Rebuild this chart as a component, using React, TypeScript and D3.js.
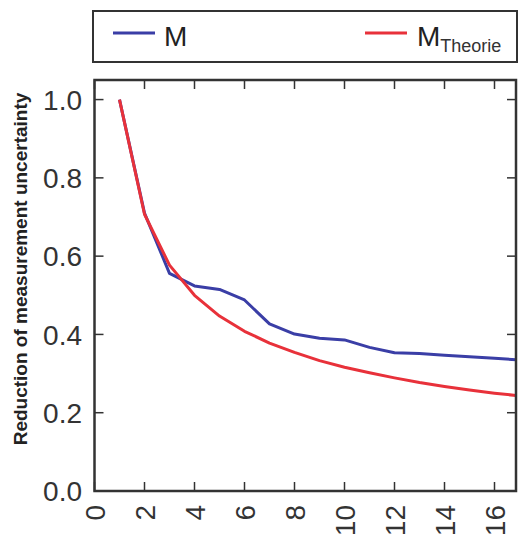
import React from "react";
import * as d3 from "d3";

const xValues = [1, 2, 3, 4, 5, 6, 7, 8, 9, 10, 11, 12, 13, 14, 15, 16, 17];
const mValues = [1.0, 0.71, 0.556, 0.524, 0.515, 0.488, 0.427, 0.401, 0.39, 0.386, 0.367, 0.353, 0.351, 0.347, 0.343, 0.339, 0.335];
const mTheorieValues = [1.0, 0.707, 0.577, 0.5, 0.447, 0.408, 0.378, 0.354, 0.333, 0.316, 0.302, 0.289, 0.277, 0.267, 0.258, 0.25, 0.243];
const xTicks = [0, 2, 4, 6, 8, 10, 12, 14, 16];
const yTicks = [0, 0.2, 0.4, 0.6, 0.8, 1.0];
const xDomain = [0, 16.86];
const yDomain = [0, 1.05];
const yTitle = "Reduction of measurement uncertainty";

const W = 518;
const H = 539;
const L = 94.5, R = 516, T = 80, B = 491;
const FONT = "'Liberation Sans', Arial, Helvetica, sans-serif";
const BLUE = "#3a3ea6";
const RED = "#e8313a";
const FRAME = "#333333";

export default function App() {
  const x = d3.scaleLinear().domain(xDomain).range([L, R]);
  const y = d3.scaleLinear().domain(yDomain).range([B, T]);
  const line = d3
    .line<number>()
    .x((_, i) => x(xValues[i]))
    .y((d) => y(d));
  const tickLen = 9;
  return (
    <svg
      width={W}
      height={H}
      style={{ position: "absolute", left: 0, top: 0, background: "#fff" }}
      fontFamily={FONT}
    >
      <defs>
        <clipPath id="plotClip">
          <rect x={L} y={T} width={R - L} height={B - T} />
        </clipPath>
      </defs>
      {/* legend */}
      <rect x={93} y={11} width={424} height={51} fill="#fff" stroke={FRAME} strokeWidth={2} />
      <line x1={113} x2={155} y1={33} y2={33} stroke={BLUE} strokeWidth={3} />
      <text x={164} y={46} fontSize={28} fill="#222">M</text>
      <line x1={365} x2={407} y1={33} y2={33} stroke={RED} strokeWidth={3} />
      <text x={417} y={46} fontSize={28} fill="#222">
        M
        <tspan fontSize={18} dy={6} fill="#333">Theorie</tspan>
      </text>

      {/* lines */}
      <g clipPath="url(#plotClip)">
        <path d={line(mValues) || ""} fill="none" stroke={BLUE} strokeWidth={3} strokeLinejoin="round" />
        <path d={line(mTheorieValues) || ""} fill="none" stroke={RED} strokeWidth={3} strokeLinejoin="round" />
      </g>

      {/* ticks */}
      {xTicks.map((t) => (
        <g key={"xt" + t}>
          <line x1={x(t)} x2={x(t)} y1={B} y2={B - tickLen} stroke={FRAME} strokeWidth={1.5} />
          <line x1={x(t)} x2={x(t)} y1={T} y2={T + tickLen} stroke={FRAME} strokeWidth={1.5} />
          <text
            transform={`translate(${x(t)},${505}) rotate(-90)`}
            textAnchor="end"
            dy="0.36em"
            fontSize={28}
            fill="#333"
          >
            {t}
          </text>
        </g>
      ))}
      {yTicks.map((t) => (
        <g key={"yt" + t}>
          <line x1={L} x2={L + tickLen} y1={y(t)} y2={y(t)} stroke={FRAME} strokeWidth={1.5} />
          <line x1={R} x2={R - tickLen} y1={y(t)} y2={y(t)} stroke={FRAME} strokeWidth={1.5} />
          <text x={82} y={y(t)} dy="0.36em" textAnchor="end" fontSize={28} fill="#333">
            {t.toFixed(1)}
          </text>
        </g>
      ))}

      {/* frame */}
      <rect x={L} y={T} width={R - L} height={B - T} fill="none" stroke={FRAME} strokeWidth={2.5} />

      {/* y title */}
      <text
        transform={`translate(${27},${269}) rotate(-90)`}
        textAnchor="middle"
        fontSize={19}
        fontWeight="bold"
        fill="#222"
      >
        {yTitle}
      </text>
    </svg>
  );
}
